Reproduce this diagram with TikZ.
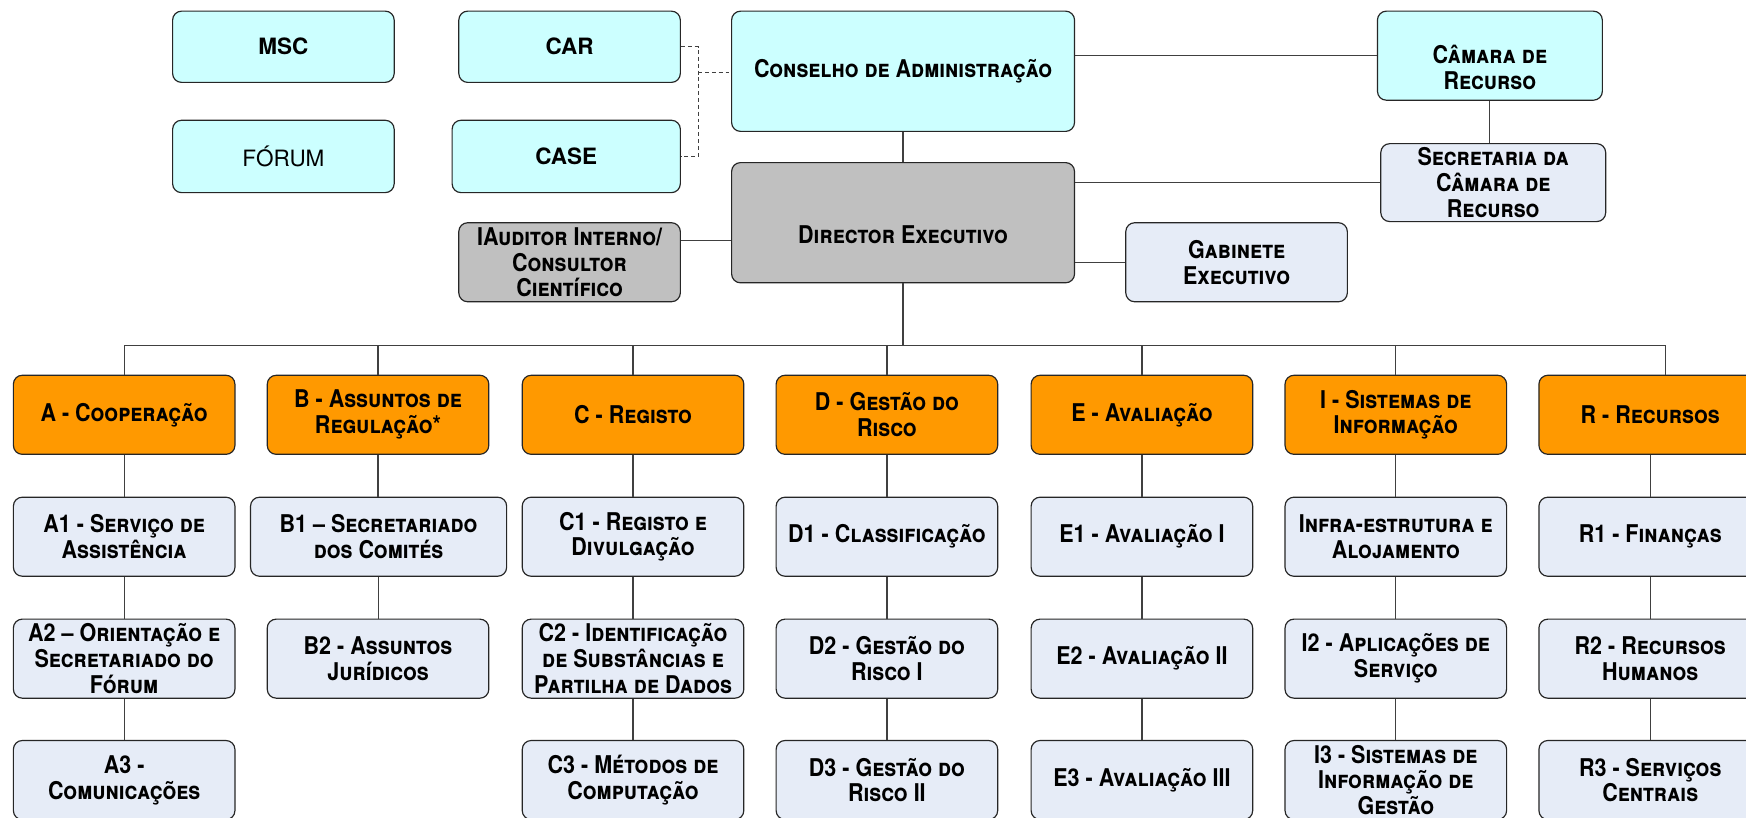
\documentclass[tikz,border=0pt]{standalone}
\usepackage{fontspec}
\setmainfont{TeX Gyre Heros}
\newfontfamily\narrowsc{TeX Gyre Heros}[FakeStretch=0.88]
\usetikzlibrary{calc}
\definecolor{cyanbox}{HTML}{CCFFFF}
\definecolor{lightbox}{HTML}{E6ECF7}
\definecolor{greybox}{HTML}{C0C0C0}
\definecolor{orangebox}{HTML}{FF9900}
\definecolor{linec}{HTML}{404040}
\newcommand\lowered[2]{\raisebox{-#1}[\height][\depth]{#2}}
\begin{document}
\begin{tikzpicture}[x=0.02cm,y=-0.02cm,
  box/.style={draw=black!85, line width=0.6pt, rounded corners=0.16cm, align=center, inner sep=0pt,
    font=\narrowsc\fontsize{12.5}{13.2}\selectfont\bfseries\scshape, text=black},
  plain/.style={font=\fontsize{11.5}{13.2}\selectfont\bfseries},
  std/.style={box, minimum width=3.98cm, minimum height=1.42cm},
  dept/.style={std, fill=orangebox},
  sub/.style={std, fill=lightbox},
  topbox/.style={box, fill=cyanbox},
  conn/.style={draw=linec, line width=0.6pt},
  dconn/.style={conn, dash pattern=on 2pt off 1.5pt}]
\useasboundingbox (0,0) rectangle (1568,734);
\clip (0,0) rectangle (1568,734);
\fill[white] (0,0) rectangle (1568,734);

% top area
\node[topbox, plain, minimum width=3.98cm, minimum height=1.28cm] (msc) at (254.5,42) {MSC};
\node[topbox, minimum width=3.98cm, minimum height=1.3cm, font=\fontsize{11.5}{13.2}\selectfont] (forum) at (254.5,140.5) {FÓRUM};
\node[topbox, plain, minimum width=3.98cm, minimum height=1.28cm] (car) at (511.5,42) {CAR};
\node[topbox, plain, minimum width=4.1cm, minimum height=1.3cm] (case) at (508.5,140.5) {CASE};
\node[topbox, minimum width=6.16cm, minimum height=2.16cm] (ca) at (811,64) {Conselho de Administração};
\node[topbox, minimum width=4.04cm, minimum height=1.6cm] (cam) at (1338,50)
  {\lowered{6pt}{\parbox{4cm}{\centering Câmara de\\Recurso}}};
\node[box, fill=lightbox, minimum width=4.04cm, minimum height=1.4cm] (sec) at (1341,164) {Secretaria da\\Câmara de\\Recurso};
\node[box, fill=greybox, minimum width=6.16cm, minimum height=2.16cm] (dir) at (811,200) {\lowered{6.2pt}{Director Executivo}};
\node[box, fill=greybox, minimum width=3.98cm, minimum height=1.42cm] (aud) at (511.5,235.5) {IAuditor Interno/\\Consultor\\Científico};
\node[box, fill=lightbox, minimum width=3.98cm, minimum height=1.42cm] (gab) at (1110.5,235.5) {Gabinete\\Executivo};

% departments
\node[dept] (A) at (111.5,372.5) {A - Cooperação};
\node[dept] (B) at (339.5,372.5) {B - Assuntos de\\Regulação*};
\node[dept] (C) at (568.5,372.5) {C - Registo};
\node[dept] (D) at (796.5,372.5) {D - Gestão do\\Risco};
\node[dept] (E) at (1025.5,372.5) {E - Avaliação};
\node[dept] (I) at (1253.5,372.5) {I - Sistemas de\\Informação};
\node[dept, minimum width=4cm] (R) at (1482,372.5) {R - Recursos};

% row 1
\node[sub] (A1) at (111.5,482) {A1 - Serviço de\\Assistência};
\node[sub, minimum width=4.6cm] (B1) at (340,482) {B1 – Secretariado\\dos Comités};
\node[sub] (C1) at (568.5,482) {C1 - Registo e\\Divulgação};
\node[sub] (D1) at (796.5,482) {D1 - Classificação};
\node[sub] (E1) at (1025.5,482) {E1 - Avaliação I};
\node[sub] (I1) at (1253.5,482) {Infra-estrutura e\\Alojamento};
\node[sub, minimum width=4cm] (R1) at (1482,482) {R1 - Finanças};

% row 2
\node[sub] (A2) at (111.5,591.5) {A2 – Orientação e\\Secretariado do\\Fórum};
\node[sub] (B2) at (339.5,591.5) {B2 - Assuntos\\Jurídicos};
\node[sub] (C2) at (568.5,591.5) {C2 - Identificação\\de Substâncias e\\Partilha de Dados};
\node[sub] (D2) at (796.5,591.5) {D2 - Gestão do\\Risco I};
\node[sub] (E2) at (1025.5,591.5) {E2 - Avaliação II};
\node[sub] (I2) at (1253.5,591.5) {I2 - Aplicações de\\Serviço};
\node[sub, minimum width=4cm] (R2) at (1482,591.5) {R2 - Recursos\\Humanos};

% row 3
\node[sub] (A3) at (111.5,700.5) {A3 -\\Comunicações};
\node[sub] (C3) at (568.5,700.5) {C3 - Métodos de\\Computação};
\node[sub] (D3) at (796.5,700.5) {D3 - Gestão do\\Risco II};
\node[sub] (E3) at (1025.5,700.5) {E3 - Avaliação III};
\node[sub] (I3) at (1253.5,700.5) {I3 - Sistemas de\\Informação de\\Gestão};
\node[sub, minimum width=4cm] (R3) at (1482,700.5) {R3 - Serviços\\Centrais};

% top connectors
\draw[conn] (ca.east |- cam.west) -- (cam.west);
\draw[conn] (cam.south) -- (cam.south |- sec.north);
\draw[conn] (ca.south) -- (dir.north);
\draw[conn] (dir.east |- sec.west) -- (sec.west);
\draw[conn] (dir.east |- gab.west) -- (gab.west);
\draw[conn] ([yshift=0.39cm]aud.east) -- ([yshift=0.39cm]aud.east -| dir.west);
\coordinate (dj) at (627,65);
\draw[dconn] (car.east) -| (dj) |- (case.east);
\draw[dconn] (dj) -- (dj -| ca.west);

% bus
\coordinate (bus) at (811,310);
\coordinate (rdrop) at ([xshift=0.28cm]R.north);
\draw[conn] (dir.south) -- (dir.south |- bus);
\draw[conn] (A.north |- bus) -- (rdrop |- bus);
\foreach \n in {A,B,C,D,E,I} \draw[conn] (\n.north) -- (\n.north |- bus);
\draw[conn] (rdrop) -- (rdrop |- bus);

% column connectors
\foreach \n in {A,C,D,E,I,R} {
  \draw[conn] (\n.south) -- (\n1.north);
  \draw[conn] (\n1.south) -- (\n2.north);
  \draw[conn] (\n2.south) -- (\n3.north);
}
\draw[conn] (B.south) -- (B.south |- B1.north);
\draw[conn] (B1.south) -- (B1.south |- B2.north);
\end{tikzpicture}
\end{document}
